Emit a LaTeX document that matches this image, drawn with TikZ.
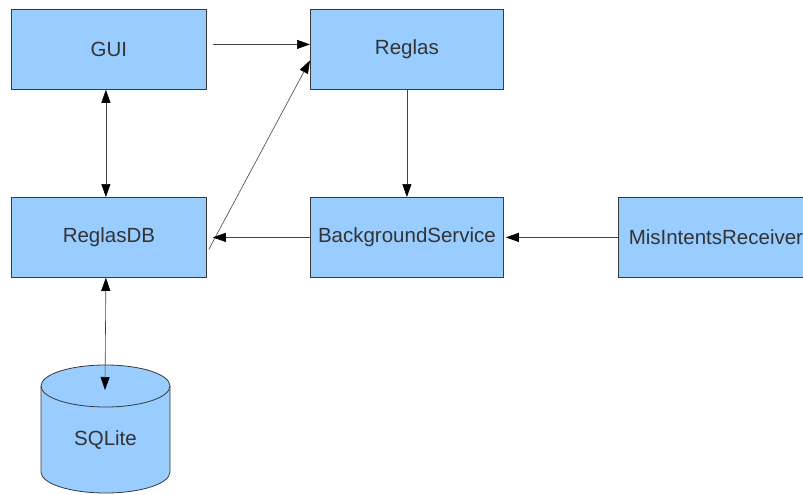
\documentclass[tikz,border=0pt]{standalone}
\usepackage{fontspec}
\setmainfont{Liberation Sans}
\usetikzlibrary{arrows.meta}
\definecolor{boxfill}{HTML}{99CCFF}
\definecolor{boxline}{HTML}{3A3A3A}
\definecolor{txt}{HTML}{333333}
\definecolor{wire}{HTML}{444444}

\begin{document}
\begin{tikzpicture}[x=1pt,y=-1pt,
  block/.style={draw=boxline, line width=0.8pt, fill=boxfill, text=txt,
    font=\fontsize{20.5}{23}\selectfont, minimum width=195pt,
    minimum height=80pt, inner sep=0pt, anchor=north west},
  label/.style={text=txt, font=\fontsize{20.5}{23}\selectfont, inner sep=0pt},
  tip/.tip={Triangle[length=13pt,width=9pt,color=black,fill=black]},
  arr/.style={draw=wire, line width=0.6pt, -{tip}},
  biarr/.style={draw=wire, line width=0.6pt, {tip}-{tip}}]

  \useasboundingbox (0,0) rectangle (803,495);
  \clip (0,0) rectangle (803,495);

  % component boxes
  \node[block] (gui)        at (11,9)    {GUI};
  \node[block, minimum width=193pt] (reglas) at (310,9) {Reglas};
  \node[block] (reglasdb)   at (11,197)  {ReglasDB};
  \node[block, minimum width=193pt] (bgservice) at (310,197) {BackgroundService};
  \node[block] (receiver)   at (618,197) {MisIntentsReceiver};

  % SQLite database drawn as a cylinder
  \fill[boxfill] (41,386) -- (41,472) arc[start angle=180, end angle=0,
    x radius=64.5, y radius=21] -- (170,386)
    arc[start angle=360, end angle=180, x radius=64.5, y radius=21] -- cycle;
  \draw[boxline, line width=0.8pt] (41,386) -- (41,472)
    arc[start angle=180, end angle=0, x radius=64.5, y radius=21] -- (170,386);
  \draw[boxline, line width=0.8pt] (105.5,386) ellipse[x radius=64.5, y radius=21];
  \node[label] (sqlite) at (105.5,440) {SQLite};
  \coordinate (sqltop) at (105,390);

  % connectors
  \draw[arr] ([xshift=6pt,yshift=5pt]gui.east) -- ([yshift=5pt]gui.east -| reglas.west);
  \draw[arr] ([xshift=2pt,yshift=-12pt]reglasdb.east) -- ([yshift=-11pt]reglas.west);
  \draw[biarr] ([xshift=-3pt]gui.south) -- ([xshift=-3pt]reglasdb.north);
  \draw[biarr] ([xshift=-3pt]reglasdb.south) -- (sqltop);
  \draw[arr] (reglas.south) -- (bgservice.north);
  \draw[arr] (bgservice.west) -- ([xshift=6pt]reglasdb.east);
  \draw[arr] (receiver.west) -- ([xshift=2pt]bgservice.east);
\end{tikzpicture}
\end{document}
